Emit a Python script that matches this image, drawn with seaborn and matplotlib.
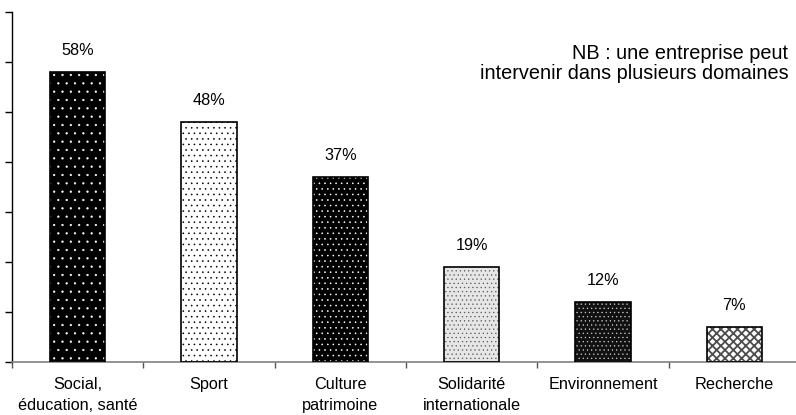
import matplotlib
matplotlib.use("Agg")
import matplotlib.pyplot as plt
import matplotlib.patches as mpatches
import seaborn as sns

categories = ["Social,\néducation, santé", "Sport", "Culture\npatrimoine",
              "Solidarité\ninternationale", "Environnement", "Recherche"]
values = [58, 48, 37, 19, 12, 7]
labels = ["58%", "48%", "37%", "19%", "12%", "7%"]

# fill, hatch, hatch colour, hatch width for each bar
faces = ["black", "white", "black", "#e6e6e6", "#111111", "white"]
hatches = ["..", "...", "...", "....", "....", "xxxx"]
hatch_cols = ["white", "black", "white", "#555555", "#cfcfcf", "#4d4d4d"]
hatch_lw = [0.4, 0.4, 0.4, 0.4, 0.4, 1.3]

sns.set_style("white")
plt.rcParams['font.family'] = ['Liberation Sans', 'DejaVu Sans']
plt.rcParams['text.color'] = 'black'
plt.rcParams['xtick.color'] = 'black'
plt.rcParams['ytick.color'] = 'black'
plt.rcParams['hatch.linewidth'] = 0.4

fig = plt.figure(figsize=(7.96, 4.15), dpi=100)
ax = fig.add_axes([0.015, 0.128, 0.99, 0.843])

sns.barplot(x=categories, y=values, width=0.42, ax=ax, color="white")

for p, fc, h, hc, lw in zip(ax.patches, faces, hatches, hatch_cols, hatch_lw):
    p.set_facecolor(fc)
    p.set_hatch(h)
    p.set_edgecolor(hc)
    p.set_linewidth(0)
    if hasattr(p, "set_hatch_linewidth"):
        p.set_hatch_linewidth(lw)
    ax.add_patch(mpatches.Rectangle(p.get_xy(), p.get_width(), p.get_height(),
                                    fill=False, edgecolor="black", linewidth=1.2, zorder=3))

for i, (v, lab) in enumerate(zip(values, labels)):
    ax.annotate(lab, (i, v), xytext=(0, 15.5), textcoords="offset points",
                ha="center", va="center", fontsize=11.7, color="black")

ax.text(0.985, 0.852, "NB : une entreprise peut\nintervenir dans plusieurs domaines",
        transform=ax.transAxes, ha="right", va="center", fontsize=14.3, linespacing=1.05,
        color="black")

ax.set_ylim(0, 70)
ax.set_xlim(-0.5, 5.5)
ax.set_yticks(range(0, 71, 10))
ax.set_yticklabels([])
ax.set_xticks(range(len(categories)))
ax.set_xticklabels(categories, fontsize=11.7, color="black", linespacing=1.45)
ax.set_xticks([i - 0.5 for i in range(len(categories) + 1)], minor=True)
ax.tick_params(axis="x", which="major", length=0, pad=11)
ax.tick_params(axis="x", which="minor", bottom=True, length=4, width=1,
               color="#555555", direction="out")
ax.tick_params(axis="y", length=5, width=1, color="black", direction="out", left=True)

for s in ["top", "right"]:
    ax.spines[s].set_visible(False)
ax.spines["left"].set_color("black")
ax.spines["left"].set_linewidth(1)
ax.spines["bottom"].set_color("#808080")
ax.spines["bottom"].set_linewidth(1.2)
ax.set_xlabel("")
ax.set_ylabel("")

fig.savefig("out.png", dpi=100)
